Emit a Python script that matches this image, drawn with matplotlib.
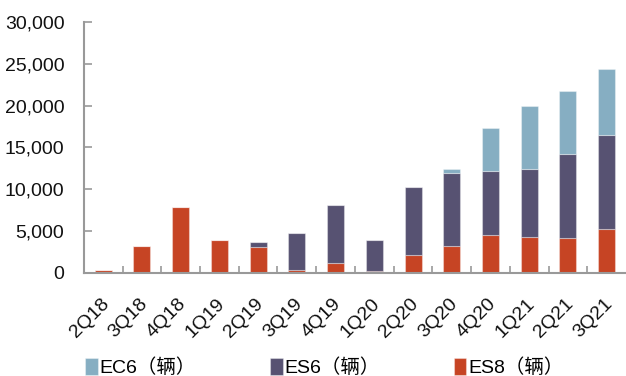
import matplotlib.pyplot as plt
import matplotlib.transforms as mtransforms
import numpy as np

plt.rcParams['font.family'] = ['Liberation Sans', 'Noto Sans CJK SC']

quarters = ['2Q18', '3Q18', '4Q18', '1Q19', '2Q19', '3Q19', '4Q19',
            '1Q20', '2Q20', '3Q20', '4Q20', '1Q21', '2Q21', '3Q21']
es8 = [320, 3200, 7900, 3900, 3060, 400, 1190, 200, 2100, 3260, 4570, 4330, 4130, 5240]
es6 = [0, 0, 0, 0, 600, 4370, 6910, 3690, 8230, 8740, 7590, 8070, 10090, 11210]
ec6 = [0, 0, 0, 0, 0, 0, 0, 0, 0, 400, 5120, 7540, 7550, 7980]

c_es8 = '#c64424'
c_es6 = '#575272'
c_ec6 = '#86aec2'

fig = plt.figure(figsize=(6.26, 3.76), dpi=100)
ax = fig.add_axes([0.134, 0.274, 0.866, 0.6675])

x = np.arange(len(quarters))
w = 0.44
es8 = np.array(es8)
es6 = np.array(es6)
ec6 = np.array(ec6)
edge = (1, 1, 1, 0.35)
b1 = ax.bar(x, es8, w, color=c_es8, edgecolor=edge, linewidth=0.8)
b2 = ax.bar(x, es6, w, bottom=es8, color=c_es6, edgecolor=edge, linewidth=0.8)
b3 = ax.bar(x, ec6, w, bottom=es8 + es6, color=c_ec6, edgecolor=edge, linewidth=0.8)

ax.set_xlim(-0.5, len(quarters) - 0.5)
ax.set_ylim(0, 30000)
ax.set_yticks(np.arange(0, 30001, 5000))
ax.set_yticklabels([f'{v:,}' for v in range(0, 30001, 5000)], fontsize=14, color='#111111')
ax.set_xticks(x)
ax.set_xticklabels(quarters, rotation=45, ha='right', rotation_mode='anchor', fontsize=14, color='#111111')
ax.tick_params(axis='x', length=0, pad=16)
shift = mtransforms.ScaledTranslation(-3 / 100, 0, fig.dpi_scale_trans)
for lab in ax.get_xticklabels():
    lab.set_transform(lab.get_transform() + shift)
ax.set_xticks(np.arange(0.5, len(quarters) - 0.5, 1), minor=True)
ax.tick_params(axis='x', which='minor', direction='in', length=5, color='#999999', width=1.2)
ax.tick_params(axis='y', direction='in', length=6, color='#999999', width=1.2, pad=14)

for s in ['top', 'right']:
    ax.spines[s].set_visible(False)
for s in ['left', 'bottom']:
    ax.spines[s].set_color('#999999')
    ax.spines[s].set_linewidth(1.5)

fig.legend([b3, b2, b1], ['EC6（辆）', 'ES6（辆）', 'ES8（辆）'],
           loc='lower left', bbox_to_anchor=(0.108, -0.05), ncol=3, frameon=False,
           fontsize=14, handlelength=0.65, handleheight=0.95, handletextpad=0.1,
           columnspacing=3.8)

fig.savefig('out.png', dpi=100)
